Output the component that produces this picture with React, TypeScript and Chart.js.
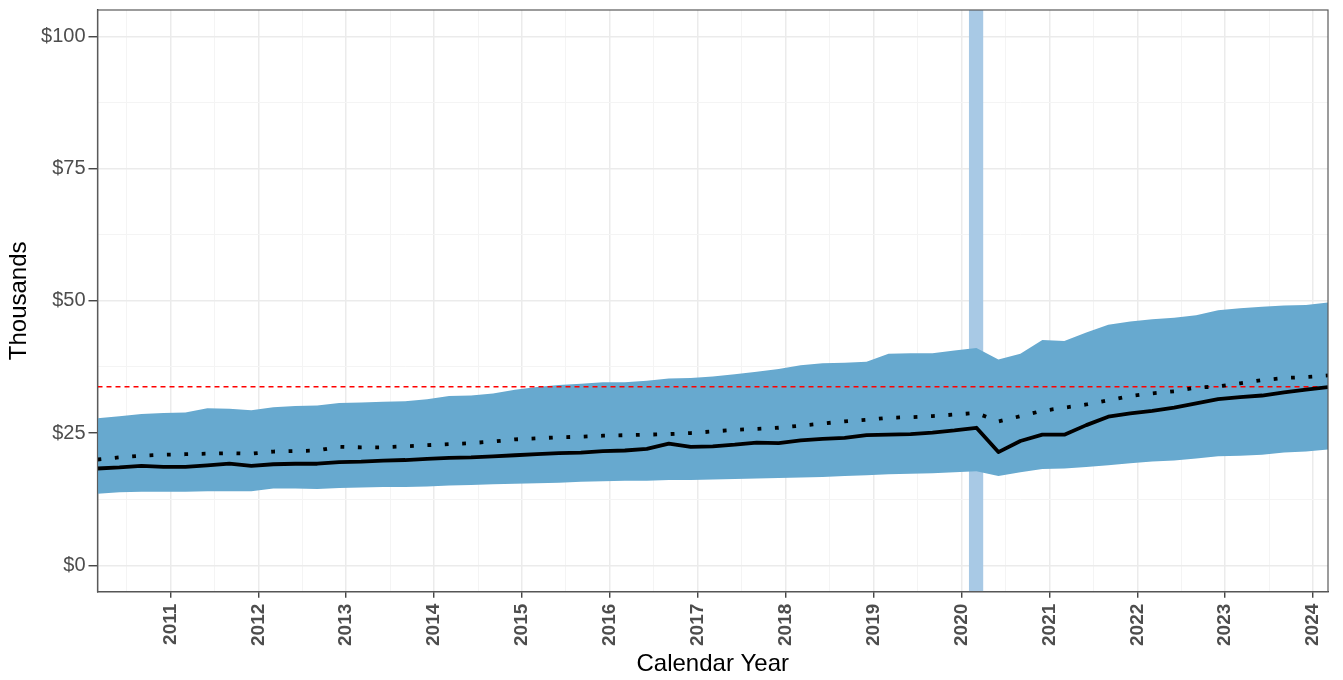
import React, { useEffect, useRef } from "react";
import { Chart, registerables } from "chart.js";

Chart.register(...registerables);

// Quarterly observation dates (decimal years)
const START_YEAR = 2010.17;
const QUARTERS = 57;
const dates: number[] = Array.from({ length: QUARTERS }, (_, k) => START_YEAR + k * 0.25);

// Values in thousands of dollars
const upperBand: number[] = [
  27.8, 28.2, 28.6, 28.8, 28.9, 29.7, 29.6, 29.3, 29.9, 30.1,
  30.2, 30.7, 30.8, 30.9, 31.0, 31.4, 32.0, 32.1, 32.5, 33.2,
  33.7, 34.1, 34.3, 34.6, 34.6, 34.9, 35.3, 35.4, 35.7, 36.1,
  36.6, 37.1, 37.8, 38.2, 38.3, 38.5, 40.0, 40.1, 40.1, 40.6,
  41.1, 38.9, 40.0, 42.6, 42.4, 44.0, 45.5, 46.1, 46.5, 46.8,
  47.3, 48.2, 48.6, 48.9, 49.1, 49.2, 49.7,
];
const lowerBand: number[] = [
  13.5, 13.8, 13.9, 13.9, 13.9, 14.0, 14.0, 14.0, 14.5, 14.5,
  14.4, 14.6, 14.7, 14.8, 14.8, 14.9, 15.1, 15.2, 15.3, 15.4,
  15.5, 15.6, 15.8, 15.9, 16.0, 16.0, 16.1, 16.1, 16.2, 16.3,
  16.4, 16.5, 16.6, 16.7, 16.9, 17.0, 17.2, 17.3, 17.4, 17.6,
  17.8, 16.9, 17.6, 18.2, 18.3, 18.6, 18.9, 19.3, 19.6, 19.8,
  20.2, 20.6, 20.7, 20.9, 21.3, 21.5, 21.9,
];
const solidSeries: number[] = [
  18.3, 18.5, 18.8, 18.6, 18.6, 18.9, 19.2, 18.8, 19.1, 19.2,
  19.2, 19.5, 19.6, 19.8, 19.9, 20.1, 20.3, 20.4, 20.6, 20.8,
  21.0, 21.2, 21.3, 21.6, 21.7, 22.0, 23.0, 22.4, 22.5, 22.8,
  23.2, 23.1, 23.6, 23.9, 24.1, 24.6, 24.7, 24.8, 25.1, 25.5,
  26.0, 21.4, 23.5, 24.7, 24.7, 26.5, 28.1, 28.7, 29.2, 29.8,
  30.6, 31.4, 31.8, 32.1, 32.7, 33.2, 33.7,
];
const dottedSeries: number[] = [
  20.0, 20.4, 20.7, 20.9, 21.0, 21.1, 21.2, 21.1, 21.5, 21.6,
  21.7, 22.4, 22.3, 22.3, 22.5, 22.7, 22.9, 23.1, 23.4, 23.8,
  24.0, 24.2, 24.3, 24.5, 24.6, 24.7, 24.8, 25.0, 25.3, 25.6,
  25.8, 26.0, 26.4, 26.8, 27.2, 27.5, 27.9, 28.0, 28.2, 28.5,
  28.8, 27.2, 28.2, 29.2, 29.8, 30.4, 31.2, 32.0, 32.5, 32.9,
  33.6, 33.8, 34.4, 35.0, 35.4, 35.6, 35.9,
];
const referenceLevel = 33.75;
const recessionStart = 2020.083;
const recessionEnd = 2020.25;

const X_MIN = 2010.17;
const X_MAX = 2024.17;
const Y_MIN = -5;
const Y_MAX = 105;
const yearTicks: number[] = [2011, 2012, 2013, 2014, 2015, 2016, 2017, 2018, 2019, 2020, 2021, 2022, 2023, 2024];
const yearMinorTicks: number[] = [2010.5, 2011.5, 2012.5, 2013.5, 2014.5, 2015.5, 2016.5, 2017.5, 2018.5, 2019.5, 2020.5, 2021.5, 2022.5, 2023.5];
const dollarTicks: number[] = [0, 25, 50, 75, 100];
const dollarMinorTicks: number[] = [12.5, 37.5, 62.5, 87.5];

const FONT = "'Liberation Sans', Arial, sans-serif";

const panelBorder = {
  id: "panelBorder",
  afterDraw(chart: any) {
    const { ctx, chartArea } = chart;
    ctx.save();
    ctx.strokeStyle = "#5a5a5a";
    ctx.lineWidth = 1.2;
    ctx.strokeRect(chartArea.left, chartArea.top, chartArea.right - chartArea.left, chartArea.bottom - chartArea.top);
    ctx.restore();
  },
};

export default function App() {
  const canvasRef = useRef<HTMLCanvasElement | null>(null);

  useEffect(() => {
    const canvas = canvasRef.current;
    if (!canvas) return;
    const pts = (vals: number[]) => vals.map((v, i) => ({ x: dates[i], y: v }));
    const isMajor = (v: number) => Math.abs(v - Math.round(v)) < 1e-6;

    const chart = new Chart(canvas, {
      type: "line",
      data: {
        datasets: [
          {
            label: "dotted",
            data: pts(dottedSeries),
            borderColor: "#000000",
            borderWidth: 3.8,
            borderDash: [3.8, 13.6],
            borderCapStyle: "butt",
            pointRadius: 0,
            fill: false,
            tension: 0,
          },
          {
            label: "solid",
            data: pts(solidSeries),
            borderColor: "#000000",
            borderWidth: 3.8,
            borderJoinStyle: "round",
            pointRadius: 0,
            fill: false,
            tension: 0,
          },
          {
            label: "reference",
            data: [
              { x: X_MIN, y: referenceLevel },
              { x: X_MAX, y: referenceLevel },
            ],
            borderColor: "#ff0000",
            borderWidth: 1.4,
            borderDash: [5, 4],
            pointRadius: 0,
            fill: false,
          },
          {
            label: "upper",
            data: pts(upperBand),
            borderWidth: 0,
            borderColor: "rgba(0,0,0,0)",
            backgroundColor: "#67a9cf",
            pointRadius: 0,
            fill: "+1",
            tension: 0,
          },
          {
            label: "lower",
            data: pts(lowerBand),
            borderWidth: 0,
            borderColor: "rgba(0,0,0,0)",
            pointRadius: 0,
            fill: false,
            tension: 0,
          },
          {
            label: "recession",
            data: [
              { x: recessionStart, y: Y_MAX },
              { x: recessionEnd, y: Y_MAX },
            ],
            borderWidth: 0,
            borderColor: "rgba(0,0,0,0)",
            backgroundColor: "#a8c9e5",
            pointRadius: 0,
            fill: "start",
          },
        ],
      },
      options: {
        responsive: false,
        devicePixelRatio: 1,
        animation: false,
        layout: { padding: { left: 0, top: 10, right: 15, bottom: 0 } },
        plugins: {
          legend: { display: false },
          tooltip: { enabled: false },
        },
        scales: {
          x: {
            type: "linear",
            min: X_MIN,
            max: X_MAX,
            afterBuildTicks: (scale: any) => {
              const all = [...yearMinorTicks, ...yearTicks].sort((a, b) => a - b);
              scale.ticks = all.map((v) => ({ value: v }));
            },
            afterFit: (scale: any) => {
              scale.height = 88.3;
              scale.paddingLeft = 0;
              scale.paddingRight = 0;
            },
            ticks: {
              autoSkip: false,
              minRotation: 90,
              maxRotation: 90,
              padding: 6,
              color: "#4d4d4d",
              font: { family: FONT, size: 19, weight: "bold" },
              callback: (v: any) => (isMajor(Number(v)) ? String(Math.round(Number(v))) : ""),
            },
            grid: {
              color: (c: any) => (c.tick && isMajor(c.tick.value) ? "#ebebeb" : "#f4f4f4"),
              lineWidth: (c: any) => (c.tick && isMajor(c.tick.value) ? 1.5 : 1),
              tickColor: (c: any) => (c.tick && isMajor(c.tick.value) ? "#333333" : "rgba(0,0,0,0)"),
              tickWidth: 1.3,
              tickLength: 6,
            },
            border: { display: true, color: "#333333", width: 1.3 },
            title: {
              display: true,
              text: "Calendar Year",
              color: "#000000",
              font: { family: FONT, size: 24, weight: "normal" },
              padding: { top: 0, bottom: 1 },
            },
          },
          y: {
            type: "linear",
            min: Y_MIN,
            max: Y_MAX,
            afterBuildTicks: (scale: any) => {
              const all = [...dollarMinorTicks, ...dollarTicks].sort((a, b) => a - b);
              scale.ticks = all.map((v) => ({ value: v }));
            },
            afterFit: (scale: any) => {
              scale.width = 97.5;
              scale.paddingTop = 0;
              scale.paddingBottom = 0;
            },
            ticks: {
              autoSkip: false,
              padding: 3,
              color: "#4d4d4d",
              font: { family: FONT, size: 20 },
              callback: (v: any) => (dollarTicks.includes(Number(v)) ? "$" + Number(v) : ""),
            },
            grid: {
              color: (c: any) => (c.tick && dollarTicks.includes(c.tick.value) ? "#ebebeb" : "#f4f4f4"),
              lineWidth: (c: any) => (c.tick && dollarTicks.includes(c.tick.value) ? 1.5 : 1),
              tickColor: (c: any) => (c.tick && dollarTicks.includes(c.tick.value) ? "#333333" : "rgba(0,0,0,0)"),
              tickWidth: 1.3,
              tickLength: 9,
            },
            border: { display: true, color: "#333333", width: 1.3 },
            title: {
              display: true,
              text: "Thousands",
              color: "#000000",
              font: { family: FONT, size: 24, weight: "normal" },
              padding: { top: 5, bottom: 0 },
            },
          },
        },
      } as any,
      plugins: [panelBorder],
    });
    return () => chart.destroy();
  }, []);

  return (
    <div style={{ position: "fixed", left: 0, top: 0, width: 1343, height: 680, background: "#ffffff" }}>
      <canvas ref={canvasRef} width={1343} height={680} style={{ display: "block" }} />
    </div>
  );
}
